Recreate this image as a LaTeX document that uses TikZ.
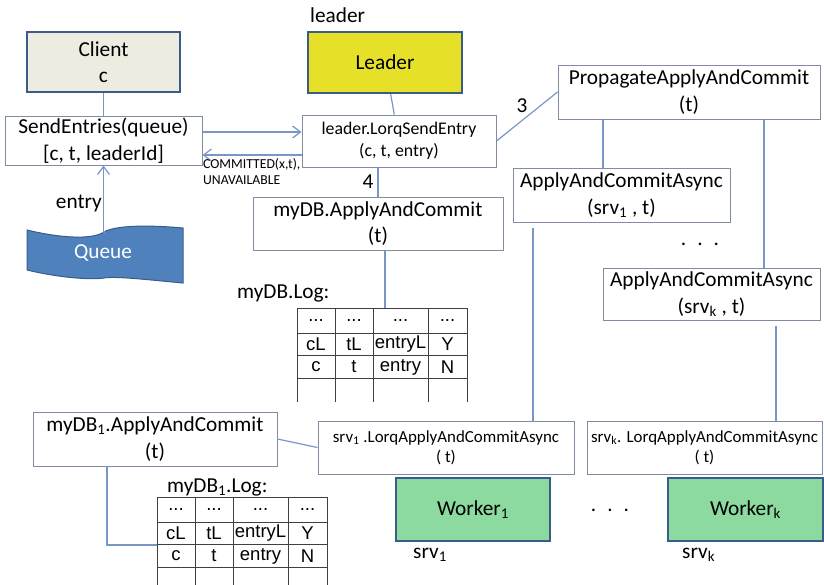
\documentclass[tikz,border=0pt]{standalone}
\usepackage{fontspec}
\setmainfont{Carlito}
\newfontfamily\tabfamily{Liberation Sans}
\usetikzlibrary{arrows.meta}

\definecolor{linkblue}{RGB}{122,150,200}
\definecolor{boxline}{RGB}{127,140,162}
\definecolor{frameblue}{RGB}{56,93,138}
\definecolor{clientfill}{RGB}{238,236,225}
\definecolor{leaderfill}{RGB}{230,224,40}
\definecolor{queuefill}{RGB}{79,129,189}
\definecolor{workerfill}{RGB}{140,218,160}

\newcommand{\boxfont}{\fontsize{21.3}{26.5}\selectfont}
\newcommand{\callfont}{\fontsize{17.8}{22}\selectfont}
\newcommand{\lorqfont}{\fontsize{16.9}{20}\selectfont}
\newcommand{\notefont}{\fontsize{13.7}{16}\selectfont}
\newcommand{\cellfont}{\tabfamily\fontsize{18.5}{20}\selectfont}

% log table: #1 name, #2 x, #3 y, #4 depth of the columns
\newcommand{\logtable}[4]{%
  \begin{scope}[shift={(#2,#3)}]
    \foreach \ry in {0,25,47,70} \draw[tabline] (0,\ry) -- (170,\ry);
    \foreach \cx in {0,38,76,131,170} \draw[tabline] (\cx,0) -- (\cx,#4);
    \foreach \cx/\b/\c [count=\i] in {19/cL/c, 57/tL/t, 103.5/entryL/entry, 150.5/Y/N} {
      \node[cell] (#1a\i) at (\cx,13) {...};
      \node[cell] (#1b\i) at (\cx,36.5) {\b};
      \node[cell] (#1c\i) at (\cx,59) {\c};
    }
  \end{scope}}

\begin{document}
\begin{tikzpicture}[x=1pt, y=-1pt, >={Straight Barb[length=8pt,width=12pt]},
    box/.style={draw=boxline, line width=1pt, fill=white, inner sep=0pt, align=center, font=\boxfont},
    framed/.style={draw=frameblue, line width=2.5pt, inner sep=0pt, align=center, font=\boxfont},
    link/.style={draw=linkblue, line width=1.2pt},
    lbl/.style={inner sep=0pt, font=\boxfont},
    tabline/.style={draw=black!75, line width=1pt},
    cell/.style={inner sep=0pt, font=\cellfont}]
  \useasboundingbox (0,0) rectangle (824,584);

  % client side
  \node[framed, fill=clientfill, minimum width=153pt, minimum height=60pt] (client) at (103.5,62) {Client\\c};
  \node[box, minimum width=197pt, minimum height=49pt] (send) at (103.5,140.5) {SendEntries(queue)\\{[c, t, leaderId]}};
  \draw[draw=frameblue, fill=queuefill, line width=1pt]
    (27,230) .. controls (60,238) and (92,240) .. (104,232) .. controls (116,225) and (150,225) .. (183,228)
    -- (183,283) .. controls (150,280) and (116,276) .. (104,278) .. controls (92,280) and (60,278) .. (27,270) -- cycle;
  \node[lbl, text=white] (queue) at (103,253) {Queue};
  \coordinate (qtop) at (104,232);
  \node[lbl, anchor=east] (entrylbl) at (102,203) {entry};

  % leader
  \node[lbl, anchor=west] (leaderlbl) at (310,15) {leader};
  \node[framed, fill=leaderfill, minimum width=154pt, minimum height=61pt] (leader) at (385,62.5) {Leader};
  \node[box, font=\callfont, minimum width=194pt, minimum height=52pt] (lsend) at (399,141) {leader.LorqSendEntry\\(c, t, entry)};
  \node[box, minimum width=250pt, minimum height=53pt] (mydb) at (378,223.5) {myDB.ApplyAndCommit\\(t)};
  \node[lbl, anchor=west] (mydblbl) at (237,293) {myDB.Log:};
  \logtable{t1}{297}{308}{94}
  \coordinate (t1top) at (385,308);

  % propagation
  \node[box, minimum width=262pt, minimum height=54pt] (prop) at (689,92) {PropagateApplyAndCommit\\(t)};
  \node[box, minimum width=217pt, minimum height=54pt] (acs1) at (621.5,195) {ApplyAndCommitAsync\\(srv\textsubscript{1} , t)};
  \node[box, minimum width=217pt, minimum height=52pt] (acsk) at (711.5,294) {ApplyAndCommitAsync\\(srv\textsubscript{k} , t)};
  \node[lbl] (dots1) at (700,244) {.\hspace{11pt}.\hspace{11pt}.};

  % workers
  \node[box, font=\lorqfont, minimum width=256pt, minimum height=53pt] (lorq1) at (446,447.5) {srv\textsubscript{1} .LorqApplyAndCommitAsync\\( t)};
  \node[box, font=\lorqfont, minimum width=235pt, minimum height=53pt] (lorqk) at (704.5,447.5) {srv\textsubscript{k}. LorqApplyAndCommitAsync\\( t)};
  \node[framed, fill=workerfill, minimum width=154pt, minimum height=63pt] (worker1) at (473,509.5) {Worker\textsubscript{1}};
  \node[framed, fill=workerfill, minimum width=155pt, minimum height=63pt] (workerk) at (745.5,509.5) {Worker\textsubscript{k}};
  \node[lbl] (dots2) at (610,510) {.\hspace{11pt}.\hspace{11pt}.};
  \node[lbl, anchor=west] (srv1) at (413,555) {srv\textsubscript{1}};
  \node[lbl, anchor=west] (srvk) at (682,555) {srv\textsubscript{k}};
  \node[box, minimum width=244pt, minimum height=54pt] (mydb1) at (155,439) {myDB\textsubscript{1}.ApplyAndCommit\\(t)};
  \node[lbl, anchor=west] (mydb1lbl) at (167,487) {myDB\textsubscript{1}.Log:};
  \logtable{t2}{157}{497}{88}
  \coordinate (t2in) at (157,545);

  % connectors
  \coordinate (c1) at (603,0);
  \coordinate (c2) at (764,0);
  \coordinate (c3) at (533,0);
  \coordinate (c4) at (776,0);
  \coordinate (c5) at (107,0);
  \coordinate (a1) at (0,132);
  \coordinate (a2) at (0,155);
  \draw[link] (client) -- (send);
  \draw[link,->] (qtop) -- (send.south |- qtop) -- (send.south);
  \draw[link,->] (send.east |- a1) -- (lsend.west |- a1);
  \draw[link,->] (lsend.west |- a2) -- (send.east |- a2);
  \node[inner sep=0pt, anchor=north west, align=left, font=\notefont] (replies) at (203,158) {COMMITTED(x,t),\\UNAVAILABLE};
  \draw[link] (leader) -- (lsend);
  \draw[link] (lsend.south -| mydb.north) -- (mydb.north);
  \node[lbl] (four) at (368,182) {4};
  \draw[link] (mydb.south -| t1top) -- (t1top);
  \draw[link] (lsend.east) -- (prop.west);
  \node[lbl] (three) at (522,106) {3};
  \draw[link] (prop.south -| c1) -- (acs1.north -| c1);
  \draw[link] (prop.south -| c2) -- (acsk.north -| c2);
  \draw[link] (acs1.south -| c3) ++(0,5) -- (lorq1.north -| c3);
  \draw[link] (acsk.south -| c4) ++(0,5) -- (lorqk.north -| c4);
  \draw[link] (mydb1.east) -- (lorq1.west);
  \draw[link] (mydb1.south -| c5) |- (t2in);
\end{tikzpicture}
\end{document}
